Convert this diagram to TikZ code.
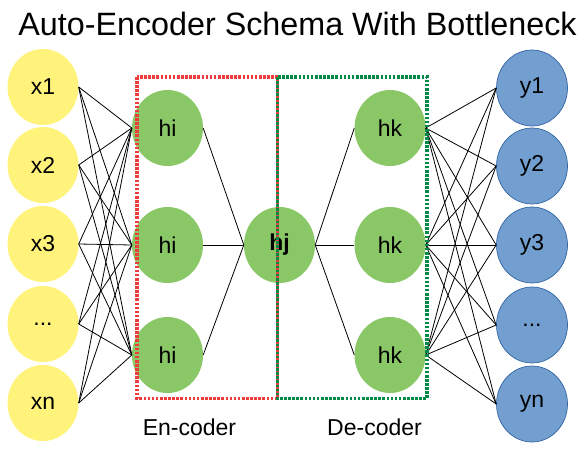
\documentclass[tikz,border=0pt]{standalone}
\usepackage{fontspec}
\setmainfont{Liberation Sans}
\usepackage{tikz}
\usetikzlibrary{shapes.geometric}

\definecolor{inyellow}{HTML}{FFF37C}
\definecolor{hidgreen}{HTML}{8AC766}
\definecolor{outblue}{HTML}{729FCF}
\definecolor{outedge}{HTML}{3465A4}
\definecolor{encred}{HTML}{EE3B3B}
\definecolor{decgreen}{HTML}{008A45}

\tikzset{
  neuron/.style={ellipse, minimum width=71pt, minimum height=76pt, inner sep=0pt,
    font=\fontsize{23}{23}\selectfont},
  inunit/.style={neuron, fill=inyellow},
  hidunit/.style={neuron, fill=hidgreen},
  outunit/.style={neuron, fill=outblue, draw=outedge, line width=0.7pt},
  boxline/.style={line width=3.8pt, dash pattern=on 2.6pt off 1.5pt}
}

\begin{document}
\begin{tikzpicture}[x=1pt,y=-1pt]
  \useasboundingbox (0,0) rectangle (580,455);

  % Title
  \node[anchor=base, font=\fontsize{32.3}{32.3}\selectfont] (title) at (297.5,35) {Auto-Encoder Schema With Bottleneck};

  % Input layer
  \node[inunit] (x1) at (43,87) {x1};
  \node[inunit] (x2) at (43,165) {x2};
  \node[inunit] (x3) at (43,244) {x3};
  \node[inunit] (x4) at (43,324) {...};
  \node[inunit] (x5) at (43,403) {xn};

  % Encoder layer
  \node[hidunit] (h1) at (167.5,128) {hi};
  \node[hidunit] (h2) at (167.5,245) {hi};
  \node[hidunit] (h3) at (167.5,355) {hi};

  % Bottleneck
  \node[hidunit, font=\fontsize{23}{23}\selectfont\bfseries] (hj) at (279.5,245) {hj};

  % Decoder layer
  \node[hidunit] (k1) at (390,128) {hk};
  \node[hidunit] (k2) at (390,245) {hk};
  \node[hidunit] (k3) at (390,355) {hk};

  % Output layer
  \node[outunit] (y1) at (532,88) {y1};
  \node[outunit] (y2) at (532,166) {y2};
  \node[outunit] (y3) at (532,245) {y3};
  \node[outunit] (y4) at (532,325) {...};
  \node[outunit] (y5) at (532,404) {yn};

  % Connections
  \foreach \i in {1,...,5}
    \foreach \j in {1,2,3} {
      \draw[line width=0.8pt] (x\i.east) -- (h\j.west);
      \draw[line width=0.8pt] (k\j.east) -- (y\i.west);
    }
  \foreach \j in {1,2,3} {
    \draw[line width=0.8pt] (h\j.east) -- (hj.west);
    \draw[line width=0.8pt] (hj.east) -- (k\j.west);
  }

  % Encoder and decoder boxes
  \draw[boxline, encred] (137,77) rectangle (277.5,398.5);
  \draw[boxline, decgreen] (277.5,77) rectangle (427,398.5);
  \node[font=\fontsize{23}{23}\selectfont, anchor=base] (enc) at (189.5,435) {En-coder};
  \node[font=\fontsize{23}{23}\selectfont, anchor=base] (dec) at (374.5,435) {De-coder};
\end{tikzpicture}
\end{document}
